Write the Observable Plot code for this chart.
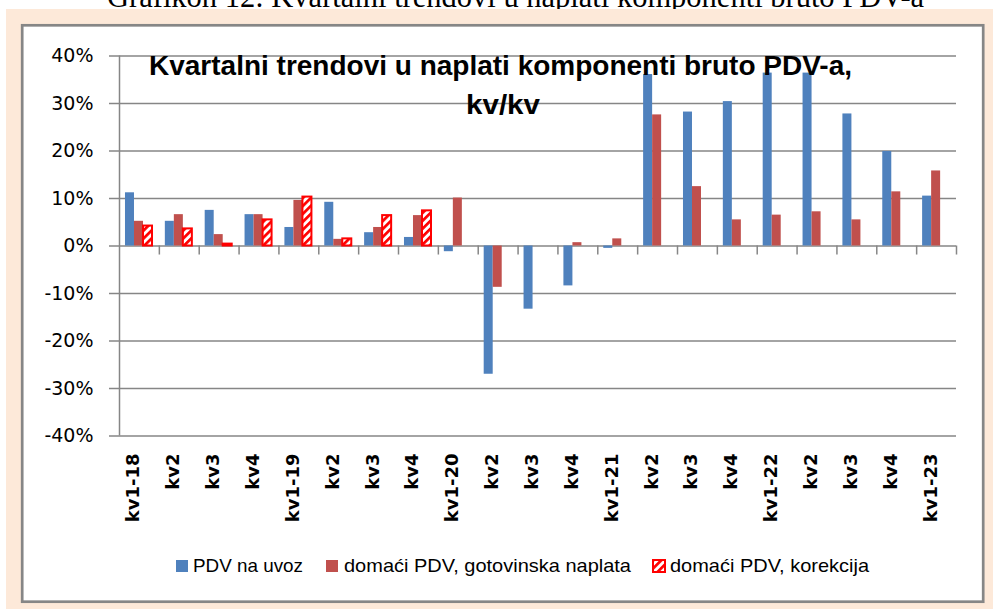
<!DOCTYPE html>
<html>
<head>
<meta charset="utf-8">
<script src="https://cdn.jsdelivr.net/npm/d3@7"></script>
<script src="https://cdn.jsdelivr.net/npm/@observablehq/plot@0.6"></script>
<style>
  body { margin: 0; background: #fff; }
  #chart { width: 993px; height: 609px; overflow: hidden; }
</style>
</head>
<body>
<div id="chart"></div>
<script>
// ---- data (percent, quarter-on-quarter) ----
const labels = ["kv1-18","kv2","kv3","kv4","kv1-19","kv2","kv3","kv4","kv1-20","kv2","kv3","kv4","kv1-21","kv2","kv3","kv4","kv1-22","kv2","kv3","kv4","kv1-23"];
const pdvUvoz          = [11.2, 5.2, 7.5, 6.6, 3.9, 9.2, 2.8, 1.8, -1.2, -27.0, -13.3, -8.4, -0.5, 36.1, 28.2, 30.4, 36.4, 36.4, 27.8, 19.9, 10.5];
const domaciGotovinska = [5.2, 6.6, 2.4, 6.6, 9.6, 1.4, 3.9, 6.4, 10.1, -8.7, null, 0.7, 1.5, 27.6, 12.5, 5.5, 6.5, 7.2, 5.5, 11.4, 15.8];
const domaciKorekcija  = [4.2, 3.6, 0.4, 5.5, 10.3, 1.5, 6.4, 7.4, null, null, null, null, null, null, null, null, null, null, null, null, null];
const seriesNames = ["PDV na uvoz", "domaći PDV, gotovinska naplata", "domaći PDV, korekcija"];
const yTicks = [-40, -30, -20, -10, 0, 10, 20, 30, 40];
const caption = "Grafikon 12: Kvartalni trendovi u naplati komponenti bruto PDV-a";
const titleLines = ["Kvartalni trendovi u naplati komponenti bruto PDV-a,", "kv/kv"];

// ---- styles ----
const BLUE = "#4F81BD", RED = "#C0504D", HATCH = "#FF0000", GRID = "#868686";

const rows = [];
[pdvUvoz, domaciGotovinska, domaciKorekcija].forEach((arr, k) =>
  arr.forEach((v, i) => { if (v != null) rows.push({i, k, v, series: seriesNames[k]}); })
);
const slot = 0.226, start = 0.15;
const bx1 = d => d.i + start + d.k * slot;
const bx2 = d => d.i + start + (d.k + 1) * slot;

const svg = Plot.plot({
  width: 993,
  height: 609,
  marginLeft: 119,
  marginRight: 37,
  marginTop: 55.5,
  marginBottom: 173.5,
  style: {background: "transparent", color: "#000", fontFamily: "DejaVu Sans", overflow: "visible"},
  x: {domain: [0, labels.length], axis: null},
  y: {domain: [-40, 40], axis: null},
  marks: [
    Plot.ruleY(yTicks, {stroke: GRID, strokeWidth: 1.5}),
    Plot.axisY({ticks: yTicks, tickSize: 10, tickPadding: 16, tickFormat: d => d + "%", label: null,
                fontSize: 19, stroke: GRID, strokeWidth: 1.5, fill: "#000"}),
    Plot.ruleX([0], {y1: -40, y2: 40, stroke: GRID, strokeWidth: 1.5}),
    Plot.ruleX(d3.range(1, labels.length + 1), {y1: 0, y2: -1.9, stroke: GRID, strokeWidth: 1.5}),
    Plot.rect(rows.filter(d => d.k === 0), {x1: bx1, x2: bx2, y1: 0, y2: "v", fill: BLUE}),
    Plot.rect(rows.filter(d => d.k === 1), {x1: bx1, x2: bx2, y1: 0, y2: "v", fill: RED}),
    Plot.rect(rows.filter(d => d.k === 2), {x1: bx1, x2: bx2, y1: 0, y2: "v", fill: "url(#hatch)", stroke: HATCH, strokeWidth: 2}),
    Plot.text(labels, {x: (d, i) => i + 0.5, frameAnchor: "bottom", dy: 17.5, rotate: -90,
                       textAnchor: "end", text: d => d, fontSize: 18, fontWeight: "bold",
                       fontFamily: "DejaVu Sans", fill: "#000"})
  ]
});

const s = d3.select(svg);
// hatch pattern
const defs = s.insert("defs", ":first-child");
const p = defs.append("pattern").attr("id", "hatch").attr("patternUnits", "userSpaceOnUse")
  .attr("width", 5.6).attr("height", 5.6).attr("patternTransform", "rotate(45)");
p.append("rect").attr("width", 5.6).attr("height", 5.6).attr("fill", "#fff");
p.append("rect").attr("width", 2.7).attr("height", 5.6).attr("fill", HATCH);

// background: caption, peach panel, white chart box
const bg = s.insert("g", "defs + *").attr("text-anchor", "start");
bg.append("text").attr("x", 107).attr("y", 7).attr("font-family", "Liberation Serif")
  .attr("font-size", 30.5).attr("fill", "#000").text(caption);
bg.append("rect").attr("x", 6).attr("y", 9).attr("width", 987).attr("height", 600).attr("fill", "#FDE9D9");
bg.append("rect").attr("x", 22.2).attr("y", 25.3).attr("width", 961).attr("height", 576.4)
  .attr("fill", "#fff").attr("stroke", GRID).attr("stroke-width", 2.7);

// chart title
const tg = s.append("g").attr("text-anchor", "start");
tg.append("text").attr("x", 149).attr("y", 75).attr("font-family", "Liberation Sans")
  .attr("font-weight", "bold").attr("font-size", 27).attr("textLength", 703)
  .attr("lengthAdjust", "spacingAndGlyphs").attr("fill", "#000").text(titleLines[0]);
tg.append("text").attr("x", 466).attr("y", 114).attr("font-family", "Liberation Sans")
  .attr("font-weight", "bold").attr("font-size", 27).attr("textLength", 74)
  .attr("lengthAdjust", "spacingAndGlyphs").attr("fill", "#000").text(titleLines[1]);

// legend
const leg = [
  {x: 176, tx: 193, tl: 110, fill: BLUE, stroke: "none"},
  {x: 326, tx: 344, tl: 287, fill: RED, stroke: "none"},
  {x: 653, tx: 670, tl: 199, fill: "url(#hatch)", stroke: HATCH}
];
const lg = s.append("g").attr("text-anchor", "start");
leg.forEach((l, k) => {
  lg.append("rect").attr("x", l.x).attr("y", 560).attr("width", 12).attr("height", 12)
    .attr("fill", l.fill).attr("stroke", l.stroke).attr("stroke-width", 2);
  lg.append("text").attr("x", l.tx).attr("y", 572).attr("font-family", "Liberation Sans")
    .attr("font-size", 18.5).attr("textLength", l.tl).attr("lengthAdjust", "spacingAndGlyphs")
    .attr("fill", "#000").text(seriesNames[k]);
});

document.getElementById("chart").appendChild(svg);
</script>
</body>
</html>
